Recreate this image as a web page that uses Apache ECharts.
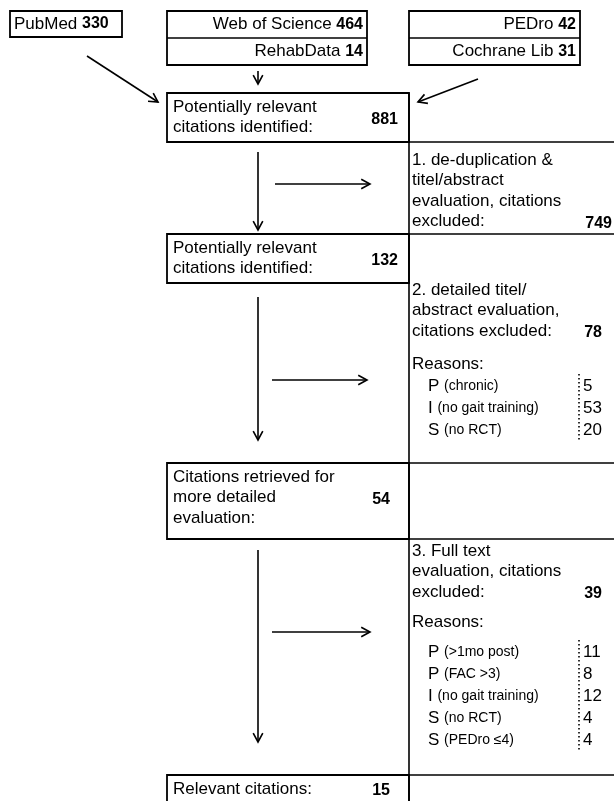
<!DOCTYPE html>
<html>
<head>
<meta charset="utf-8">
<script src="https://cdn.jsdelivr.net/npm/echarts@6/dist/echarts.min.js"></script>
<style>
html, body { margin: 0; padding: 0; background: #fff; }
#chart { width: 614px; height: 801px; }
</style>
</head>
<body>
<div id="chart"></div>
<script>
// ---- data ----
var sourceNames = ['PubMed', 'Web of Science', 'RehabData', 'PEDro', 'Cochrane Lib'];
var sourceCounts = [330, 464, 14, 42, 31];

var stageLabels = [
    'Potentially relevant\ncitations identified:',
    'Potentially relevant\ncitations identified:',
    'Citations retrieved for\nmore detailed\nevaluation:',
    'Relevant citations:'
];
var stageCounts = [881, 132, 54, 15];

var stepLabels = [
    '1. de-duplication &\ntitel/abstract\nevaluation, citations\nexcluded:',
    '2. detailed titel/\nabstract evaluation,\ncitations excluded:',
    '3. Full text\nevaluation, citations\nexcluded:'
];
var stepCounts = [749, 78, 39];

var reasons2Codes = ['P', 'I', 'S'];
var reasons2Text = ['(chronic)', '(no gait training)', '(no RCT)'];
var reasons2Counts = [5, 53, 20];

var reasons3Codes = ['P', 'P', 'I', 'S', 'S'];
var reasons3Text = ['(>1mo post)', '(FAC >3)', '(no gait training)', '(no RCT)', '(PEDro \u22644)'];
var reasons3Counts = [11, 8, 12, 4, 4];

// ---- layout ----
var FONT = '"Liberation Sans", Arial, Helvetica, sans-serif';
var LH = 20.5;                 // line height of box text
var colL = 167, colM = 409, colR = 614;
var stageBox = [[93, 142], [234, 283], [463, 539], [775, 808]];
var stageNumX = [398, 398, 390, 390];
var stepTop = [160, 290, 551];
var stepNumX = [612, 602, 602];
var reasonTop = [[364, 386], [622, 652]];
var reasonGap = 22;

var boxes = [], segs = [], texts = [];

function txt(x, y, s, opt) {
    opt = opt || {};
    texts.push({ x: x, y: y, s: s, size: opt.size || 17, bold: !!opt.bold, align: opt.align || 'left', rich: opt.rich });
}
function seg(x1, y1, x2, y2, opt) {
    opt = opt || {};
    segs.push({ p: [x1, y1, x2, y2], arrow: !!opt.arrow, dash: opt.dash || null, w: opt.w || 1.6 });
}

// source boxes
var richSrc = {
    n: { fontFamily: FONT, fontSize: 17, fill: '#000' },
    b: { fontFamily: FONT, fontSize: 16, fontWeight: 'bold', fill: '#000' }
};
boxes.push([10, 11, 122, 37]);
txt(14, 24, '{n|' + sourceNames[0] + '} {b|' + sourceCounts[0] + '}', { rich: richSrc });

boxes.push([colL, 11, 367, 65]);
seg(colL, 38, 367, 38);
txt(363, 24.5, '{n|' + sourceNames[1] + '} {b|' + sourceCounts[1] + '}', { rich: richSrc, align: 'right' });
txt(363, 51.5, '{n|' + sourceNames[2] + '} {b|' + sourceCounts[2] + '}', { rich: richSrc, align: 'right' });

boxes.push([colM, 11, 580, 65]);
seg(colM, 38, 580, 38);
txt(576, 24.5, '{n|' + sourceNames[3] + '} {b|' + sourceCounts[3] + '}', { rich: richSrc, align: 'right' });
txt(576, 51.5, '{n|' + sourceNames[4] + '} {b|' + sourceCounts[4] + '}', { rich: richSrc, align: 'right' });

// arrows from sources
seg(87, 56, 158, 102, { arrow: true });
seg(258, 71, 258, 84, { arrow: true });
seg(478, 79, 418, 102, { arrow: true });

// stage boxes (left column)
stageBox.forEach(function (b, i) {
    boxes.push([colL, b[0], colM, b[1]]);
    var lines = stageLabels[i].split('\n');
    var y0 = b[0] + 14;
    lines.forEach(function (l, k) { txt(173, y0 + k * LH, l); });
    var mid = y0 + (lines.length - 1) * LH / 2 + 2;
    txt(stageNumX[i], mid, String(stageCounts[i]), { bold: true, align: 'right', size: 16 });
});

// right column rules
seg(colM, stageBox[0][0], colM, 801);
[142, 234, 463, 539, 775].forEach(function (y) { seg(colM, y, colR, y); });

// exclusion steps
stepLabels.forEach(function (s, i) {
    var lines = s.split('\n');
    lines.forEach(function (l, k) { txt(412, stepTop[i] + k * LH, l); });
    txt(stepNumX[i], stepTop[i] + (lines.length - 1) * LH + 2, String(stepCounts[i]), { bold: true, align: 'right', size: 16 });
});

// reasons
var richReason = {
    c: { fontFamily: FONT, fontSize: 17, fill: '#000' },
    s: { fontFamily: FONT, fontSize: 14, fill: '#000' }
};
function reasonList(codes, descr, counts, t) {
    txt(412, t[0], 'Reasons:');
    codes.forEach(function (c, k) {
        var y = t[1] + k * reasonGap;
        txt(428, y, '{c|' + c + '} {s|' + descr[k] + '}', { rich: richReason });
        txt(583, y, String(counts[k]));
    });
    seg(579, t[1] - 12, 579, t[1] + (codes.length - 1) * reasonGap + 12, { dash: [1.5, 2.5], w: 1.6 });
}
reasonList(reasons2Codes, reasons2Text, reasons2Counts, reasonTop[0]);
reasonList(reasons3Codes, reasons3Text, reasons3Counts, reasonTop[1]);

// main flow arrows
[[152, 230], [297, 440], [550, 742]].forEach(function (r) { seg(258, r[0], 258, r[1], { arrow: true }); });
[[275, 370, 184], [272, 367, 380], [272, 370, 632]].forEach(function (r) { seg(r[0], r[2], r[1], r[2], { arrow: true }); });

function arrowHead(p, q, len) {
    var ang = Math.atan2(q[1] - p[1], q[0] - p[0]);
    var a1 = ang + Math.PI - 0.5, a2 = ang + Math.PI + 0.5;
    return [[q[0] + len * Math.cos(a1), q[1] + len * Math.sin(a1)], q, [q[0] + len * Math.cos(a2), q[1] + len * Math.sin(a2)]];
}

var chart = echarts.init(document.getElementById('chart'), null, { renderer: 'canvas' });
chart.setOption({
    animation: false,
    backgroundColor: '#fff',
    grid: { left: 0, right: 0, top: 0, bottom: 0 },
    xAxis: { type: 'value', min: 0, max: 614, show: false },
    yAxis: { type: 'value', min: 0, max: 801, inverse: true, show: false },
    series: [
        {
            type: 'custom',
            clip: false,
            data: boxes,
            encode: { x: [0, 2], y: [1, 3] },
            renderItem: function (params, api) {
                var p = api.coord([api.value(0), api.value(1)]);
                var q = api.coord([api.value(2), api.value(3)]);
                return {
                    type: 'rect',
                    shape: { x: p[0], y: p[1], width: q[0] - p[0], height: q[1] - p[1] },
                    style: { fill: null, stroke: '#000', lineWidth: 1.8 }
                };
            }
        },
        {
            type: 'custom',
            clip: false,
            data: segs.map(function (s) { return s.p; }),
            encode: { x: [0, 2], y: [1, 3] },
            renderItem: function (params, api) {
                var s = segs[params.dataIndex];
                var p = api.coord([api.value(0), api.value(1)]);
                var q = api.coord([api.value(2), api.value(3)]);
                var kids = [{
                    type: 'line',
                    shape: { x1: p[0], y1: p[1], x2: q[0], y2: q[1] },
                    style: { stroke: '#000', lineWidth: s.w, lineDash: s.dash }
                }];
                if (s.arrow) {
                    kids.push({
                        type: 'polyline',
                        shape: { points: arrowHead(p, q, 10) },
                        style: { stroke: '#000', fill: null, lineWidth: 1.6 }
                    });
                }
                return { type: 'group', children: kids };
            }
        },
        {
            type: 'custom',
            clip: false,
            data: texts.map(function (t) { return [t.x, t.y]; }),
            encode: { x: 0, y: 1 },
            renderItem: function (params, api) {
                var t = texts[params.dataIndex];
                var p = api.coord([api.value(0), api.value(1)]);
                var style = {
                    text: t.s,
                    x: p[0],
                    y: p[1],
                    fill: '#000',
                    fontFamily: FONT,
                    fontSize: t.size,
                    fontWeight: t.bold ? 'bold' : 'normal',
                    align: t.align,
                    verticalAlign: 'middle'
                };
                if (t.rich) style.rich = t.rich;
                return { type: 'text', style: style };
            }
        }
    ]
});
</script>
</body>
</html>
